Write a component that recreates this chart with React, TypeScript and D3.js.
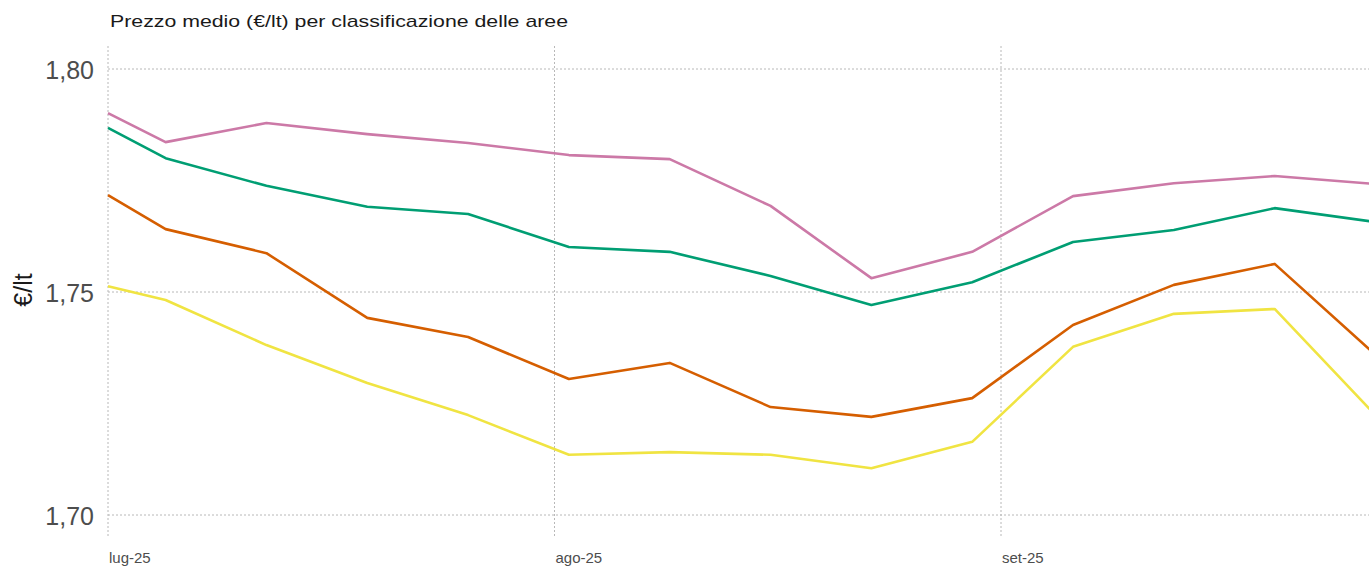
import React from "react";
import * as d3 from "d3";

const dates = [
  "2025-07-01", "2025-07-05", "2025-07-12", "2025-07-19", "2025-07-26",
  "2025-08-02", "2025-08-09", "2025-08-16", "2025-08-23", "2025-08-30",
  "2025-09-06", "2025-09-13", "2025-09-20", "2025-09-27",
];

const pinkValues = [1.7901, 1.7836, 1.7879, 1.7854, 1.7834, 1.7807, 1.7798, 1.7693, 1.7531, 1.7590, 1.7715, 1.7744, 1.7760, 1.7742];
const greenValues = [1.7868, 1.7800, 1.7738, 1.7691, 1.7675, 1.7601, 1.7590, 1.7536, 1.7471, 1.7522, 1.7612, 1.7639, 1.7688, 1.7657];
const orangeValues = [1.7717, 1.7641, 1.7587, 1.7442, 1.7399, 1.7305, 1.7341, 1.7242, 1.7220, 1.7262, 1.7426, 1.7516, 1.7563, 1.7359];
const yellowValues = [1.7513, 1.7482, 1.7381, 1.7296, 1.7224, 1.7135, 1.7141, 1.7135, 1.7105, 1.7164, 1.7377, 1.7451, 1.7462, 1.7224];

const series = [
  { name: "A", values: yellowValues, color: "#F0E442" },
  { name: "B", values: orangeValues, color: "#D55E00" },
  { name: "C", values: greenValues, color: "#009E73" },
  { name: "D", values: pinkValues, color: "#CC79A7" },
];

const yTicks = [1.7, 1.75, 1.8];
const xTickDates = ["2025-07-01", "2025-08-01", "2025-09-01"];
const xTickLabels = ["lug-25", "ago-25", "set-25"];

const title = "Prezzo medio (€/lt) per classificazione delle aree";
const yLabel = "€/lt";

const W = 1369;
const H = 567;

export default function App() {
  const parse = d3.utcParse("%Y-%m-%d");
  const x = d3
    .scaleUtc()
    .domain([parse("2025-07-01")!, parse("2025-09-01")!])
    .range([108, 1001]);
  const y = d3.scaleLinear().domain([1.7, 1.8]).range([515, 69]);
  const line = d3
    .line<[Date, number]>()
    .x((d) => x(d[0]))
    .y((d) => y(d[1]));
  const fmt = (v: number) => v.toFixed(2).replace(".", ",");

  return (
    <svg
      width={W}
      height={H}
      style={{ position: "absolute", left: 0, top: 0, overflow: "hidden", background: "#fff" }}
      fontFamily="'Liberation Sans', Arial, sans-serif"
    >
      <rect x={0} y={0} width={W} height={H} fill="#fff" />
      {/* grid */}
      {yTicks.map((t) => (
        <line
          key={"h" + t}
          x1={108}
          x2={W}
          y1={y(t)}
          y2={y(t)}
          stroke="#b8b8b8"
          strokeWidth={1}
          strokeDasharray="2 2"
        />
      ))}
      {xTickDates.map((d) => (
        <line
          key={"v" + d}
          x1={x(parse(d)!)}
          x2={x(parse(d)!)}
          y1={46}
          y2={538}
          stroke="#b8b8b8"
          strokeWidth={1}
          strokeDasharray="2 2"
        />
      ))}
      {/* lines */}
      {series.map((s) => (
        <path
          key={s.name}
          d={line(s.values.map((v, i) => [parse(dates[i])!, v]))!}
          fill="none"
          stroke={s.color}
          strokeWidth={2.6}
          strokeLinejoin="round"
        />
      ))}
      {/* y ticks */}
      {yTicks.map((t) => (
        <text key={"yt" + t} x={94} y={y(t) + 9.5} textAnchor="end" fontSize={25} fill="#4d4d4d">
          {fmt(t)}
        </text>
      ))}
      {/* x ticks */}
      {xTickDates.map((d, i) => (
        <text key={"xt" + d} x={x(parse(d)!) + 1} y={563} fontSize={15} fill="#4d4d4d">
          {xTickLabels[i]}
        </text>
      ))}
      {/* y label */}
      <text transform="translate(32,290) rotate(-90)" textAnchor="middle" fontSize={25} fill="#1a1a1a">
        {yLabel}
      </text>
      {/* title */}
      <text x={110} y={27} fontSize={17} fill="#1a1a1a" textLength={458} lengthAdjust="spacingAndGlyphs">
        {title}
      </text>
    </svg>
  );
}
